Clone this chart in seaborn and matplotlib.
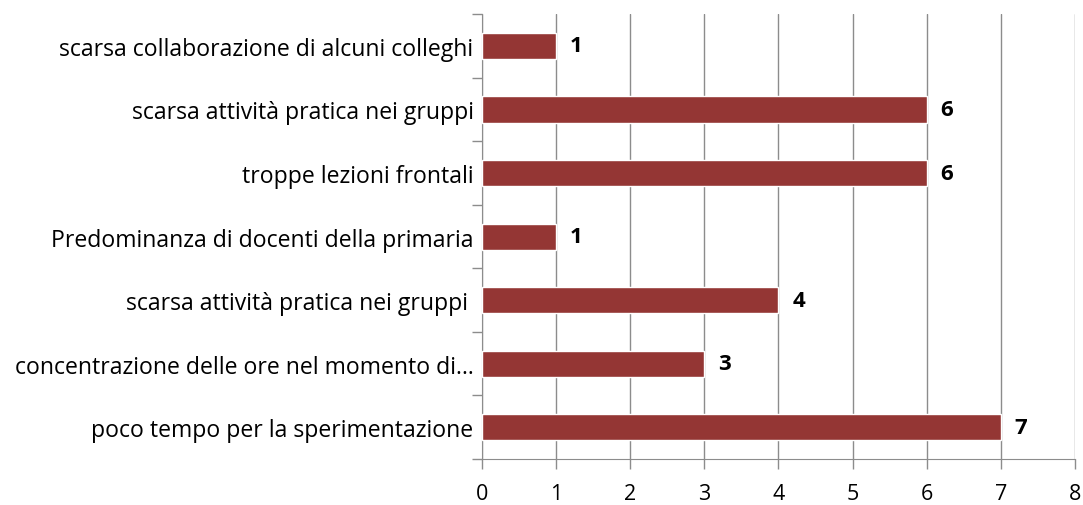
import matplotlib
matplotlib.use("Agg")
import matplotlib.pyplot as plt
import seaborn as sns
import pandas as pd
from matplotlib.ticker import MultipleLocator, FixedLocator

# dati (dall'alto verso il basso)
categorie = [
    "scarsa collaborazione di alcuni colleghi",
    "scarsa attività pratica nei gruppi",
    "troppe lezioni frontali",
    "Predominanza di docenti della primaria",
    "scarsa attività pratica nei gruppi ",
    "concentrazione delle ore nel momento di…",
    "poco tempo per la sperimentazione",
]
valori = [1, 6, 6, 1, 4, 3, 7]

df = pd.DataFrame({"categoria": categorie, "valore": valori})

sns.set_style("white")
plt.rcParams['font.family'] = ['Open Sans', 'DejaVu Sans']
plt.rcParams['text.color'] = 'black'
plt.rcParams['xtick.labelcolor'] = 'black'
plt.rcParams['ytick.labelcolor'] = 'black'

fig = plt.figure(figsize=(10.83, 5.06), dpi=100)
ax = fig.add_axes([0.445, 0.091, 0.5475, 0.879])

sns.barplot(data=df, y="categoria", x="valore", orient="h", color="#943634",
            saturation=1, width=0.41, ax=ax, zorder=3)

ax.set_xlim(0, 8)
ax.set_ylim(len(categorie) - 0.5, -0.5)
ax.xaxis.set_major_locator(MultipleLocator(1))
ax.grid(axis="x", color="#8c8c8c", linewidth=1, zorder=0)
ax.set_axisbelow(True)

for s in ["top", "right"]:
    ax.spines[s].set_visible(False)
ax.spines["left"].set_color("#8c8c8c")
ax.spines["bottom"].set_color("#8c8c8c")

# tacche tra le categorie sull'asse y
ax.yaxis.set_minor_locator(FixedLocator([i - 0.5 for i in range(len(categorie) + 1)]))
ax.tick_params(axis="y", which="major", length=0, labelsize=16.6, pad=6,
               labelcolor="black")
ax.tick_params(axis="y", which="minor", length=7, color="#8c8c8c", width=1, left=True)
ax.tick_params(axis="x", which="major", length=7, color="#8c8c8c", width=1,
               labelsize=15.5, pad=10, bottom=True, labelcolor="black")

ax.set_xlabel("")
ax.set_ylabel("")

for i, v in enumerate(valori):
    ax.annotate(str(v), (v, i), xytext=(10, 0), textcoords="offset points",
                va="center", ha="left", fontsize=16, fontweight="bold",
                color="black")

fig.savefig("out.png", dpi=100)
